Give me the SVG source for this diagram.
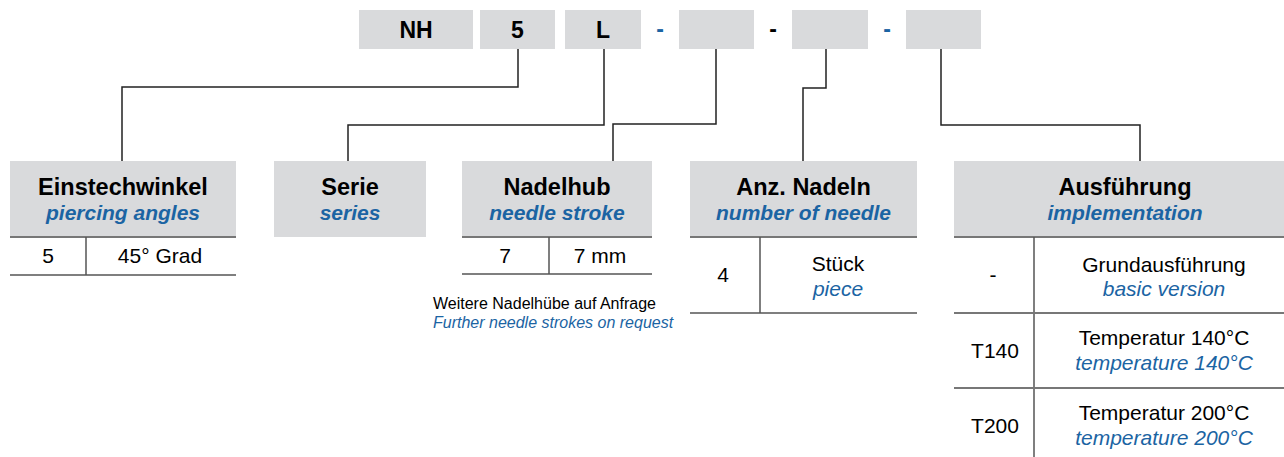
<svg xmlns="http://www.w3.org/2000/svg" width="1284" height="457" viewBox="0 0 1284 457">
<style>
.box{fill:#d9dadc}
.top{font:bold 23px "Liberation Sans",Arial,sans-serif;fill:#000;text-anchor:middle}
.dash{font:bold 23px "Liberation Sans",Arial,sans-serif;text-anchor:middle}
.h{font:bold 23.5px "Liberation Sans",Arial,sans-serif;fill:#000;text-anchor:middle}
.s{font:italic bold 21px "Liberation Sans",Arial,sans-serif;fill:#1b64a3;text-anchor:middle}
.t{font:21px "Liberation Sans",Arial,sans-serif;fill:#000;text-anchor:middle}
.ti{font:italic 21px "Liberation Sans",Arial,sans-serif;fill:#1b64a3;text-anchor:middle}
.n{font:16px "Liberation Sans",Arial,sans-serif;fill:#000}
.ni{font:italic 16px "Liberation Sans",Arial,sans-serif;fill:#1b64a3}
.con{fill:none;stroke:#222;stroke-width:1.5}
.tl{stroke:#555;stroke-width:1.5;fill:none}
.tlh{stroke:#777;stroke-width:2;fill:none}
</style>
<g id="code">
<rect class="box" x="359" y="10" width="114" height="39"/>
<text class="top" x="416" y="38">NH</text>
<rect class="box" x="480" y="10" width="75" height="39"/>
<text class="top" x="517.5" y="38">5</text>
<rect class="box" x="565" y="10" width="76" height="39"/>
<text class="top" x="603" y="38">L</text>
<text class="dash" x="660" y="37" fill="#1b64a3">-</text>
<rect class="box" x="679" y="10" width="75" height="39"/>
<text class="dash" x="773" y="37" fill="#000">-</text>
<rect class="box" x="792" y="10" width="76" height="39"/>
<text class="dash" x="887" y="37" fill="#1b64a3">-</text>
<rect class="box" x="906" y="10" width="75" height="39"/>
</g>
<g id="connectors">
<polyline class="con" points="518,49 518,87 122,87 122,161"/>
<polyline class="con" points="604,49 604,125 348,125 348,161"/>
<polyline class="con" points="716,49 716,124 613,124 613,161"/>
<polyline class="con" points="826,49 826,88 803,88 803,161"/>
<polyline class="con" points="941,49 941,125 1140,125 1140,161"/>
</g>
<g id="einstechwinkel">
<rect class="box" x="10" y="161" width="226" height="76"/>
<text class="h" x="123" y="195">Einstechwinkel</text>
<text class="s" x="123" y="220">piercing angles</text>
<line class="tlh" x1="10" y1="237" x2="236" y2="237"/>
<line class="tl" x1="86" y1="237" x2="86" y2="275"/>
<line class="tl" x1="10" y1="275" x2="236" y2="275"/>
<text class="t" x="48" y="263">5</text>
<text class="t" x="160" y="263">45° Grad</text>
</g>
<g id="serie">
<rect class="box" x="274" y="161" width="152" height="76"/>
<text class="h" x="350" y="195">Serie</text>
<text class="s" x="350" y="220">series</text>
</g>
<g id="nadelhub">
<rect class="box" x="462" y="161" width="190" height="76"/>
<text class="h" x="557" y="195">Nadelhub</text>
<text class="s" x="557" y="220">needle stroke</text>
<line class="tlh" x1="462" y1="237" x2="652" y2="237"/>
<line class="tl" x1="549" y1="237" x2="549" y2="274"/>
<line class="tl" x1="462" y1="274" x2="652" y2="274"/>
<text class="t" x="505" y="263">7</text>
<text class="t" x="600" y="263">7 mm</text>
<text class="n" x="433" y="309">Weitere Nadelhübe auf Anfrage</text>
<text class="ni" x="433" y="328">Further needle strokes on request</text>
</g>
<g id="anzahl">
<rect class="box" x="690" y="161" width="227" height="76"/>
<text class="h" x="803.5" y="195">Anz. Nadeln</text>
<text class="s" x="803.5" y="220">number of needle</text>
<line class="tlh" x1="690" y1="237" x2="917" y2="237"/>
<line class="tl" x1="760" y1="237" x2="760" y2="313"/>
<line class="tl" x1="690" y1="313" x2="917" y2="313"/>
<text class="t" x="723" y="282">4</text>
<text class="t" x="838" y="271">Stück</text>
<text class="ti" x="838" y="296">piece</text>
</g>
<g id="ausfuehrung">
<rect class="box" x="954" y="161" width="342" height="76"/>
<text class="h" x="1125" y="195">Ausführung</text>
<text class="s" x="1125" y="220">implementation</text>
<line class="tlh" x1="954" y1="237" x2="1296" y2="237"/>
<line class="tl" x1="1034" y1="237" x2="1034" y2="457"/>
<line class="tlh" x1="954" y1="313" x2="1296" y2="313"/>
<line class="tlh" x1="954" y1="388" x2="1296" y2="388"/>
<text class="t" x="993" y="282">-</text>
<text class="t" x="1164" y="272">Grundausführung</text>
<text class="ti" x="1164" y="296">basic version</text>
<text class="t" x="995" y="358">T140</text>
<text class="t" x="1164" y="345">Temperatur 140°C</text>
<text class="ti" x="1164" y="370">temperature 140°C</text>
<text class="t" x="995" y="433">T200</text>
<text class="t" x="1164" y="420">Temperatur 200°C</text>
<text class="ti" x="1164" y="445">temperature 200°C</text>
</g>
</svg>
